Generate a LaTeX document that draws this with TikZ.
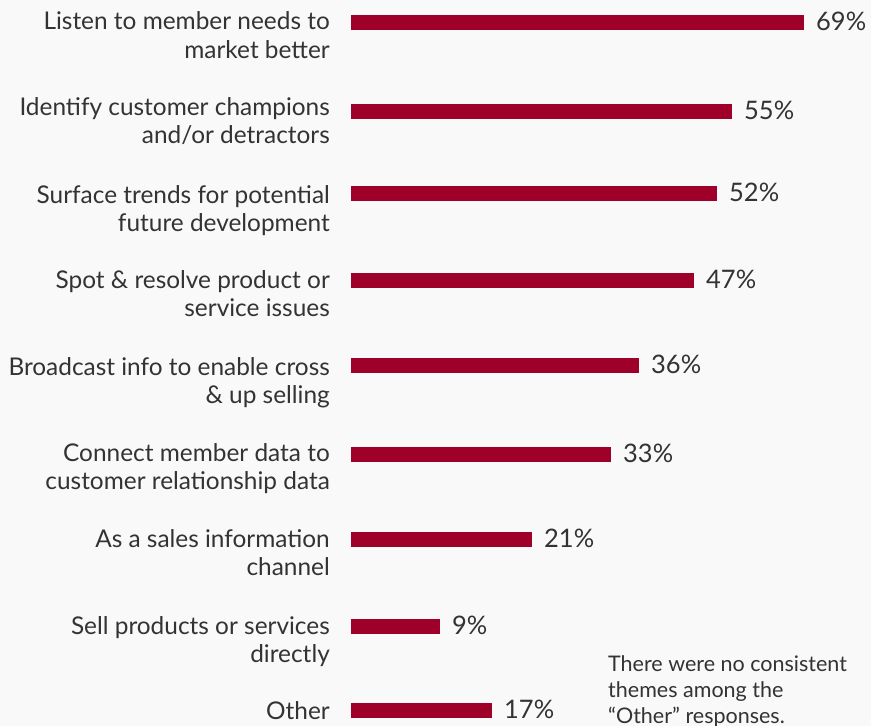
\documentclass[tikz,border=0pt]{standalone}
\usepackage{fontspec}
\setmainfont{Lato}
\definecolor{barred}{HTML}{9E0029}
\definecolor{txtgray}{HTML}{333333}
\definecolor{bggray}{HTML}{F9F9F9}
\begin{document}
\begin{tikzpicture}[x=1pt,y=-1pt,
  catlabel/.style={anchor=base east,inner sep=0pt,text=txtgray,font=\fontsize{24.4}{28}\selectfont},
  vallabel/.style={anchor=base west,inner sep=0pt,text=txtgray,font=\fontsize{25.5}{28}\selectfont},
  notelabel/.style={anchor=base west,inner sep=0pt,text=txtgray,font=\fontsize{21.5}{26}\selectfont},
  barbox/.style={fill=barred,draw=none}]
\fill[bggray] (0,0) rectangle (871,726);
\useasboundingbox (0,0) rectangle (871,726);
% bars: center y / end x / value
\foreach \i/\c/\e/\v in {1/22.5/804/69\%,2/111.5/732/55\%,3/193.5/717/52\%,4/280.5/694/47\%,5/365.5/639/36\%,6/454.5/611/33\%,7/539.5/532/21\%,8/626.5/440/9\%,9/710.5/492/17\%}{
  \path[barbox] (351,\c-7.5) rectangle (\e,\c+7.5);
  \node[vallabel] (v\i) at (\e+12,\c+8) {\v};
}
% category labels
\foreach \i/\b/\t in {1/29.5/{Listen to member needs to},2/115.5/{Identify customer champions},3/203/{Surface trends for potential},4/288.5/{Spot \& resolve product or},5/375/{Broadcast info to enable cross},6/461/{Connect member data to},7/547/{As a sales information},8/634/{Sell products or services},9/719/{Other}}{
  \node[catlabel] (la\i) at (330,\b) {\t};
}
\foreach \i/\b/\t in {1/58.3/{market better},2/143.5/{and/or detractors},3/231/{future development},4/316/{service issues},5/403/{\& up selling},6/489/{customer relationship data},7/575/{channel},8/662.5/{directly}}{
  \node[catlabel] (lb\i) at (330,\b) {\t};
}
% note
\node[notelabel] (n1) at (608,671) {There were no consistent};
\node[notelabel] (n2) at (608,697) {themes among the};
\node[notelabel] (n3) at (608,723) {“Other” responses.};
\end{tikzpicture}
\end{document}
